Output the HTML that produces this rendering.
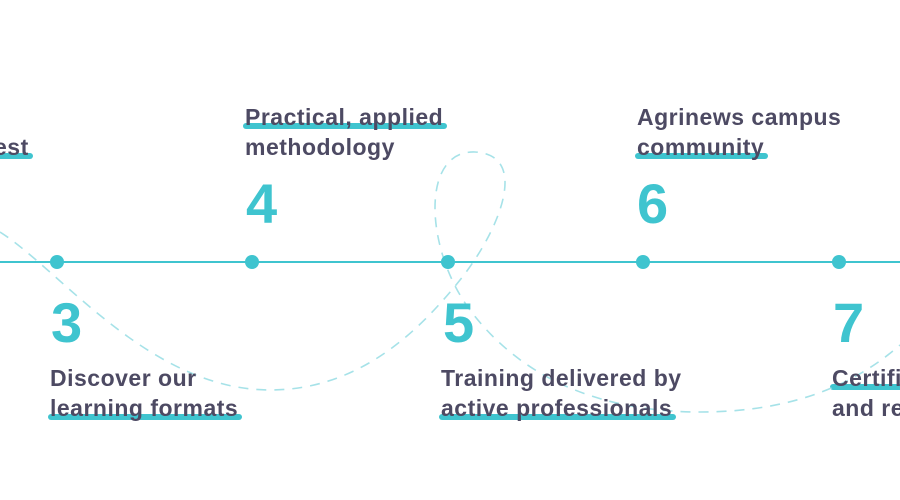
<!DOCTYPE html>
<html><head><style>
body{margin:0;width:900px;height:500px;background:#fff;position:relative;overflow:hidden;font-family:"Liberation Sans",sans-serif}
.t{position:absolute;font-weight:bold;font-size:23px;color:#4d4a63;line-height:30px;white-space:nowrap;letter-spacing:0.5px}
.u{position:relative;display:inline-block}
.u:after{content:"";position:absolute;left:-2px;right:-4px;bottom:3px;height:6px;background:#3fc4cf;border-radius:3px;z-index:-1}
.n{position:absolute;font-size:56px;color:#3fc4cf;font-family:"Liberation Sans Narrow","Liberation Sans",sans-serif;line-height:56px;font-weight:bold}
</style></head><body>
<svg width="900" height="500" style="position:absolute;left:0;top:0">
<path d="M0,232 C60,270 150,390 270,390 C360,390 420,330 460,280 C500,230 530,155 475,152 C420,150 425,250 470,310 C530,390 620,412 700,412 C800,412 860,380 900,345" fill="none" stroke="#a6e2e8" stroke-width="1.6" stroke-dasharray="10,8"/>
<line x1="0" y1="262" x2="900" y2="262" stroke="#3fc4cf" stroke-width="2"/>
<g fill="#3fc4cf"><circle cx="57" cy="262" r="7"/><circle cx="252" cy="262" r="7"/><circle cx="448" cy="262" r="7"/><circle cx="643" cy="262" r="7"/><circle cx="839" cy="262" r="7"/></g>
</svg>
<div class="t" style="left:-6px;top:132px"><span class="u">est</span></div>
<div class="t" style="left:245px;top:102px"><span class="u">Practical, applied</span><br>methodology</div>
<div class="t" style="left:637px;top:102px">Agrinews campus<br><span class="u">community</span></div>
<div class="t" style="left:50px;top:363px">Discover our<br><span class="u">learning formats</span></div>
<div class="t" style="left:441px;top:363px">Training delivered by<br><span class="u">active professionals</span></div>
<div class="t" style="left:832px;top:363px"><span class="u">Certifi</span><br>and re</div>
<div class="n" style="left:246px;top:176px">4</div>
<div class="n" style="left:637px;top:176px">6</div>
<div class="n" style="left:51px;top:295px">3</div>
<div class="n" style="left:443px;top:295px">5</div>
<div class="n" style="left:833px;top:295px">7</div>
</body></html>
